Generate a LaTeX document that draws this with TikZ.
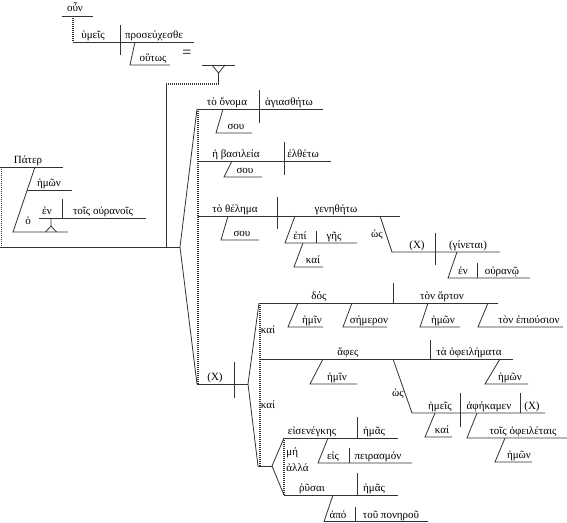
\documentclass[tikz,border=0pt]{standalone}
\usepackage{fontspec}
\setmainfont{Liberation Serif}
\usepackage{tikz}

\begin{document}
\begin{tikzpicture}[x=1pt, y=-1pt, line width=0.8pt, draw=black!80,
    font=\fontsize{11}{13}\selectfont,
    wd/.style={anchor=base, inner sep=0pt},
    dots/.style={line width=1.3pt, dash pattern=on 1pt off 1pt}]
  \useasboundingbox (0,0) rectangle (567,522);

  % introductory clause
  \draw (62,16) -- (93,16);
  \node[wd] (oun) at (75,12) {οὖν};
  \draw[dots] (73,16) -- (73,42);
  \draw (73,42) -- (194,42);
  \draw (120,25) -- (120,55);
  \node[wd] (hymeis) at (93,38) {ὑμεῖς};
  \node[wd] (proseuch) at (154,38) {προσεύχεσθε};
  \draw (135,42) -- (130,65) -- (170,65);
  \node[wd] (houtos) at (153,61) {οὕτως};
  \node[font=\fontsize{16}{16}\selectfont] (eq) at (187,54) {=};
  \draw (202,65) -- (235,65);
  \draw (212,65) -- (218.5,73) -- (225,65);
  \draw (218.5,73) -- (218.5,84);
  \draw[dots] (218.5,84) -- (166,84);
  \draw (166,84) -- (166,247);

  % vocative
  \draw (0,167) -- (63,167);
  \node[wd] (pater) at (28,163) {Πάτερ};
  \draw[dots] (1.5,167) -- (1.5,247);
  \draw (35,167) -- (13,232) -- (68,232);
  \draw (27,190) -- (72,190);
  \node[wd] (hemon0) at (49,186) {ἡμῶν};
  \node[wd] (ho) at (28,224) {ὁ};
  \draw (39,218) -- (146,218);
  \draw (62,199) -- (62,218);
  \node[wd] (en0) at (47,214) {ἐν};
  \node[wd] (ouranois) at (103,214) {τοῖς οὐρανοῖς};
  \draw (51,218) -- (51,226) -- (45.5,232);
  \draw (51,226) -- (56.5,232);
  \draw (0,247) -- (180,247);

  % fork to the petitions
  \draw (180,247) -- (197,109);
  \draw (180,247) -- (197,384);
  \draw[dots] (198,109) -- (198,384);

  % first three petitions
  \draw (197,109) -- (323,109);
  \draw (259,90) -- (259,123);
  \node[wd] (onoma) at (227,105) {τὸ ὄνομα};
  \node[wd] (hagias) at (289,105) {ἁγιασθήτω};
  \draw (223,109) -- (216,133) -- (252,133);
  \node[wd] (sou1) at (236,129) {σου};

  \draw (198,161) -- (331,161);
  \draw (284,142) -- (284,175);
  \node[wd] (basil) at (236,157) {ἡ βασιλεία};
  \node[wd] (eltheto) at (303,157) {ἐλθέτω};
  \draw (232,161) -- (224,177) -- (262,177);
  \node[wd] (sou2) at (245,173) {σου};

  \draw (198,216) -- (400,216);
  \draw (277,197) -- (277,229);
  \node[wd] (thelema) at (235,212) {τὸ θέλημα};
  \node[wd] (genethe) at (336,212) {γενηθήτω};
  \draw (228,216) -- (221,240) -- (259,240);
  \node[wd] (sou3) at (242,236) {σου};
  \draw (295,216) -- (285,243) -- (357,243);
  \draw (316,231) -- (316,243);
  \node[wd] (epi) at (300,239) {ἐπί};
  \node[wd] (ges) at (334,239) {γῆς};
  \draw (303,243) -- (294,267) -- (323,267);
  \node[wd] (kai0) at (313,263) {καί};
  \draw (380,216) -- (392,252) -- (500,252);
  \node[wd] (hos1) at (377,237) {ὡς};
  \draw (435,233) -- (435,265);
  \node[wd] (x1) at (417,248) {(X)};
  \node[wd] (ginetai) at (468,248) {(γίνεται)};
  \draw (457,252) -- (448,278) -- (530,278);
  \draw (477,263) -- (477,278);
  \node[wd] (en1) at (463,274) {ἐν};
  \node[wd] (ourano) at (502,274) {οὐρανῷ};

  % compound of the last petitions
  \draw (197,384) -- (248,384);
  \draw (234,362) -- (234,398);
  \node[wd] (x0) at (215,380) {(X)};
  \draw (248,384) -- (259,303);
  \draw (248,384) -- (258,466);
  \draw[dots] (260,303) -- (260,466);
  \node[wd] (kai1) at (268,333) {καί};
  \node[wd] (kai2) at (268,408) {καί};

  \draw (259,303) -- (498,303);
  \draw (393,283) -- (393,303);
  \node[wd] (dos) at (319,299) {δός};
  \node[wd] (arton) at (442,299) {τὸν ἄρτον};
  \draw (298,303) -- (288,327) -- (323,327);
  \node[wd] (hemin1) at (312,323) {ἡμῖν};
  \draw (352,303) -- (343,327) -- (387,327);
  \node[wd] (semeron) at (369,323) {σήμερον};
  \draw (428,303) -- (420,327) -- (460,327);
  \node[wd] (hemon1) at (443,323) {ἡμῶν};
  \draw (488,303) -- (478,327) -- (563,327);
  \node[wd] (epious) at (529,323) {τὸν ἐπιούσιον};

  \draw (260,359) -- (513,359);
  \draw (430,340) -- (430,359);
  \node[wd] (aphes) at (348,355) {ἄφες};
  \node[wd] (opheil) at (469,355) {τὰ ὀφειλήματα};
  \draw (323,359) -- (310,384) -- (357,384);
  \node[wd] (hemin2) at (337,380) {ἡμῖν};
  \draw (500,359) -- (485,384) -- (528,384);
  \node[wd] (hemon2) at (510,380) {ἡμῶν};
  \draw (393,359) -- (412,413) -- (545,413);
  \node[wd] (hos2) at (398,396) {ὡς};
  \draw (460,393) -- (460,427);
  \draw (520,393) -- (520,413);
  \node[wd] (hemeis) at (440,409) {ἡμεῖς};
  \node[wd] (aphek) at (489,409) {ἀφήκαμεν};
  \node[wd] (x2) at (532,409) {(X)};
  \draw (435,413) -- (425,437) -- (452,437);
  \node[wd] (kai3) at (442,433) {καί};
  \draw (477,413) -- (467,438) -- (570,438);
  \node[wd] (opheilet) at (523,434) {τοῖς ὀφειλέταις};
  \draw (505,438) -- (495,462) -- (532,462);
  \node[wd] (hemon3) at (519,458) {ἡμῶν};

  \draw (258,466) -- (272,466);
  \draw (272,466) -- (284,438);
  \draw (272,466) -- (284,495);
  \draw[dots] (284,438) -- (284,495);
  \node[wd, anchor=base west] (me) at (286,455) {μή};
  \node[wd, anchor=base west] (alla) at (286,471) {ἀλλά};

  \draw (284,438) -- (398,438);
  \draw (357,417) -- (357,438);
  \node[wd] (eisen) at (312,434) {εἰσενέγκης};
  \node[wd] (hemas1) at (374,434) {ἡμᾶς};
  \draw (328,438) -- (318,463) -- (412,463);
  \draw (349,448) -- (349,463);
  \node[wd] (eis) at (333,459) {εἰς};
  \node[wd] (peiras) at (378,459) {πειρασμόν};

  \draw (284,495) -- (398,495);
  \draw (357,473) -- (357,495);
  \node[wd] (rhysai) at (312,491) {ῥῦσαι};
  \node[wd] (hemas2) at (374,491) {ἡμᾶς};
  \draw (333,495) -- (324,521.5) -- (428,521.5);
  \draw (355,507) -- (355,521.5);
  \node[wd] (apo) at (338,518) {ἀπό};
  \node[wd] (poneron) at (391,518) {τοῦ πονηροῦ};
\end{tikzpicture}
\end{document}
